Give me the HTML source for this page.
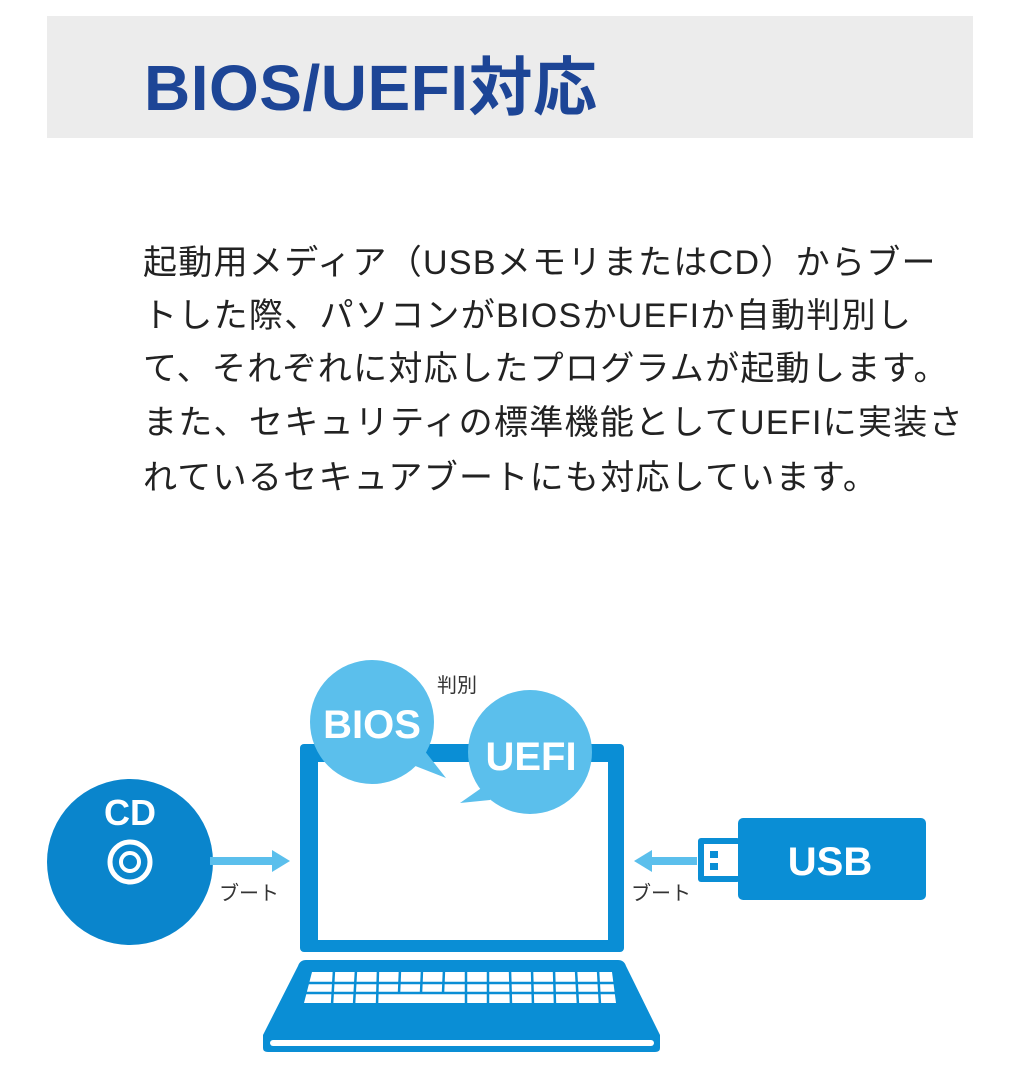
<!DOCTYPE html>
<html><head><meta charset="utf-8"><style>
body{margin:0;width:1022px;height:1080px;background:#fff;position:relative;overflow:hidden;font-family:"Liberation Sans","Noto Sans CJK JP",sans-serif;}
.hdr{position:absolute;left:47px;top:16px;width:926px;height:122px;background:#ececec;}
.title{position:absolute;left:144px;top:37px;font-size:64px;font-weight:bold;color:#1d4596;white-space:nowrap;letter-spacing:0.5px;}
.p{position:absolute;left:143px;font-size:34px;color:#222;white-space:nowrap;line-height:40px;letter-spacing:1.3px;}
</style></head><body>
<div class="hdr"></div>
<div class="title">BIOS/UEFI対応</div>
<div class="p" style="top:243px">起動用メディア（USBメモリまたはCD）からブー</div>
<div class="p" style="top:296px">トした際、パソコンがBIOSかUEFIか自動判別し</div>
<div class="p" style="top:349px">て、それぞれに対応したプログラムが起動します。</div>
<div class="p" style="top:403px">また、セキュリティの標準機能としてUEFIに実装さ</div>
<div class="p" style="top:458px">れているセキュアブートにも対応しています。</div>
<svg width="1022" height="1080" style="position:absolute;left:0;top:0" font-family="Liberation Sans, Noto Sans CJK JP, sans-serif">
 <rect x="300" y="744" width="324" height="208" rx="4" fill="#0a8ed5"/>
 <rect x="318" y="762" width="290" height="178" fill="#fff"/>
 <path d="M306 960 L618 960 Q624 960 626 966 L660 1035 L660 1048 Q660 1052 655 1052 L268 1052 Q263 1052 263 1048 L263 1035 L298 966 Q300 960 306 960Z" fill="#0a8ed5"/>
 <rect x="270" y="1040" width="384" height="6" rx="3" fill="#fff"/>
 <path d="M312 972 L612 972 L616 1003 L304 1003Z" fill="#fff"/>
 <g stroke="#0a8ed5" stroke-width="2.5">
  <line x1="300" y1="983" x2="620" y2="983"/>
  <line x1="300" y1="993" x2="620" y2="993"/>
  <line x1="334" y1="970" x2="332" y2="1005"/><line x1="356" y1="970" x2="354" y2="1005"/>
  <line x1="378" y1="970" x2="377" y2="1005"/><line x1="400" y1="970" x2="399" y2="993"/>
  <line x1="422" y1="970" x2="421" y2="993"/><line x1="444" y1="970" x2="443" y2="993"/>
  <line x1="466" y1="970" x2="466" y2="1005"/><line x1="488" y1="970" x2="488" y2="1005"/>
  <line x1="510" y1="970" x2="511" y2="1005"/><line x1="532" y1="970" x2="533" y2="1005"/>
  <line x1="554" y1="970" x2="555" y2="1005"/><line x1="576" y1="970" x2="578" y2="1005"/>
  <line x1="598" y1="970" x2="600" y2="1005"/>
 </g>
 <path d="M400 760 L446 778 L420 745Z" fill="#5bbfec"/>
 <circle cx="372" cy="722" r="62" fill="#5bbfec"/>
 <text x="372" y="738" text-anchor="middle" font-size="40" font-weight="bold" fill="#fff">BIOS</text>
 <path d="M500 775 L460 803 L490 800Z" fill="#5bbfec"/>
 <circle cx="530" cy="752" r="62" fill="#5bbfec"/>
 <text x="531" y="770" text-anchor="middle" font-size="40" font-weight="bold" fill="#fff">UEFI</text>
 <text x="437" y="692" font-size="20" fill="#333">判別</text>
 <circle cx="130" cy="862" r="83" fill="#0a85cc"/>
 <text x="130" y="825" text-anchor="middle" font-size="36" font-weight="bold" fill="#fff">CD</text>
 <circle cx="130" cy="862" r="20" fill="none" stroke="#fff" stroke-width="5"/>
 <circle cx="130" cy="862" r="9" fill="none" stroke="#fff" stroke-width="4"/>
 <rect x="210" y="857" width="64" height="8" fill="#5bbfec"/>
 <path d="M272 850 L290 861 L272 872Z" fill="#5bbfec"/>
 <text x="219" y="900" font-size="20" fill="#333">ブート</text>
 <rect x="650" y="857" width="47" height="8" fill="#5bbfec"/>
 <path d="M652 850 L634 861 L652 872Z" fill="#5bbfec"/>
 <text x="631" y="900" font-size="20" fill="#333">ブート</text>
 <rect x="738" y="818" width="188" height="82" rx="5" fill="#0a8ed5"/>
 <rect x="698" y="838" width="42" height="44" rx="3" fill="#0a8ed5"/>
 <rect x="704" y="844" width="34" height="32" fill="#fff"/>
 <rect x="710" y="851" width="8" height="7" fill="#0a8ed5"/>
 <rect x="710" y="863" width="8" height="7" fill="#0a8ed5"/>
 <text x="830" y="875" text-anchor="middle" font-size="40" font-weight="bold" fill="#fff">USB</text>
</svg>
</body></html>
